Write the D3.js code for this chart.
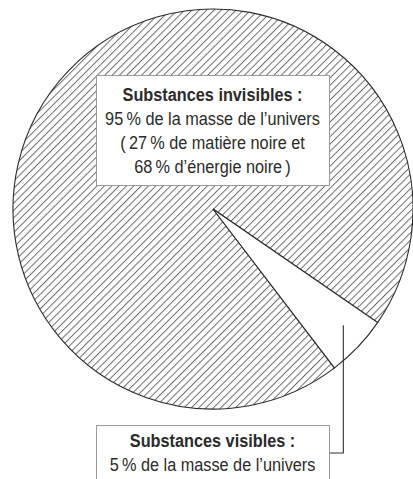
<!DOCTYPE html>
<html>
<head>
<meta charset="utf-8">
<script src="https://cdn.jsdelivr.net/npm/d3@7"></script>
<style>
  body { margin: 0; background: #fff; }
  svg text { font-family: "Liberation Sans", Arial, sans-serif; fill: #2b2b2b; }
</style>
</head>
<body>
<div id="chart"></div>
<script>
// slices of the universe mass (in %)
var categories = ["Substances invisibles", "Substances visibles"];
var shares = [95, 5];
// label lines for each slice
var invisibleLines = ["95\u2009% de la masse de l\u2019univers", "(\u200927\u2009% de matière noire et", "68\u2009% d\u2019énergie noire\u2009)"];
var visibleLines = ["5\u2009% de la masse de l\u2019univers"];

(function(){
    var dim = { w: 413, h: 479, cx: 213, cy: 209, r: 200 };
    // narrow the font to look like a condensed face
    var squeeze = 0.88;

    var svg = d3.select("#chart")
        .append("svg")
        .attr("width", dim.w)
        .attr("height", dim.h);

    // hatch pattern for the invisible part
    var defs = svg.append("defs");
    defs.append("pattern")
        .attr("id", "hatch")
        .attr("patternUnits", "userSpaceOnUse")
        .attr("width", 5.2)
        .attr("height", 10)
        .attr("patternTransform", "rotate(45)")
        .append("line")
        .attr("x1", 0.5).attr("y1", 0)
        .attr("x2", 0.5).attr("y2", 10)
        .attr("stroke", "#606060")
        .attr("stroke-width", 0.9);

    // start so the small slice sits in the lower right
    var start = 142.6 * Math.PI / 180;
    var pie = d3.pie()
        .sort(null)
        .value(function(d){ return d; })
        .startAngle(start)
        .endAngle(start + 2 * Math.PI);
    var arc = d3.arc().innerRadius(0).outerRadius(dim.r);

    var g = svg.append("g").attr("transform", "translate(" + dim.cx + "," + dim.cy + ")");
    g.selectAll("path")
        .data(pie(shares))
        .enter()
        .append("path")
        .attr("d", arc)
        .attr("fill", function(d, i){ return i === 0 ? "url(#hatch)" : "#fff"; })
        .attr("stroke", "#2b2b2b")
        .attr("stroke-width", 1.1)
        .attr("stroke-linejoin", "miter");

    // leader line for the small slice
    var small = pie(shares)[1];
    var mid = (small.startAngle + small.endAngle) / 2;
    var lx = dim.cx + Math.sin(mid) * dim.r * 0.9;
    var ly = dim.cy - Math.cos(mid) * dim.r * 0.9 - 8;
    svg.append("path")
        .attr("d", "M" + lx + "," + ly + "V453H330")
        .attr("fill", "none")
        .attr("stroke", "#333")
        .attr("stroke-width", 1.1);

    // label boxes
    function labelBox(x, y, w, h, title, lines, top) {
        svg.append("rect")
            .attr("x", x + 0.5).attr("y", y + 0.5)
            .attr("width", w).attr("height", h)
            .attr("fill", "#fff")
            .attr("stroke", "#9a9a9a")
            .attr("stroke-width", 1);
        var t = svg.append("text")
            .attr("text-anchor", "middle")
            .attr("font-size", "18.5px")
            .attr("transform", "translate(" + (x + w / 2) + ",0) scale(" + squeeze + ",1)");
        t.append("tspan")
            .attr("x", 0).attr("y", y + top)
            .attr("font-weight", "bold")
            .text(title + " :");
        lines.forEach(function(l, i){
            t.append("tspan")
                .attr("x", 0).attr("y", y + top + 24 + i * 24)
                .text(l);
        });
    }
    labelBox(96, 75, 233, 110, categories[0], invisibleLines, 26);
    labelBox(96, 425, 233, 70, categories[1], visibleLines, 22);
})();
</script>
</body>
</html>
